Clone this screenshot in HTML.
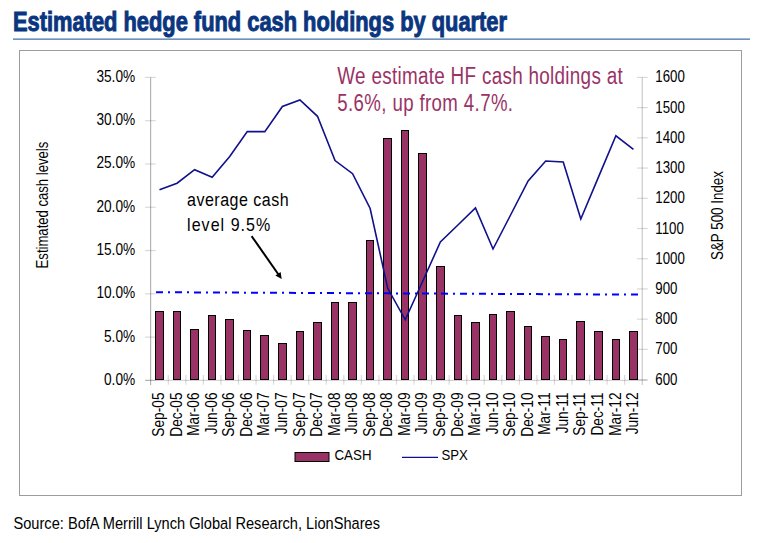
<!DOCTYPE html><html><head><meta charset="utf-8"><style>html,body{margin:0;padding:0;background:#fff;width:758px;height:543px;overflow:hidden}svg{display:block}text{font-family:"Liberation Sans",sans-serif}</style></head><body>
<svg width="758" height="543" viewBox="0 0 758 543">
<text x="13" y="31.3" font-size="27.6" font-weight="bold" fill="#0a3680" stroke="#0a3680" stroke-width="1" textLength="494" lengthAdjust="spacingAndGlyphs">Estimated hedge fund cash holdings by quarter</text>
<rect x="13" y="38" width="737" height="1" fill="#a3b6d4"/>
<rect x="13" y="39" width="737" height="1" fill="#7190bd"/>
<rect x="19.5" y="50.5" width="722" height="445" fill="none" stroke="#9c9c9c" stroke-width="1"/>
<text x="13.5" y="528.8" font-size="17.4" fill="#000" textLength="366.5" lengthAdjust="spacingAndGlyphs">Source: BofA Merrill Lynch Global Research, LionShares</text>
<line x1="150.6" y1="77.4" x2="150.6" y2="384.9" stroke="#b4b4b4" stroke-width="1.2"/>
<line x1="642.3" y1="77.4" x2="642.3" y2="384.9" stroke="#000" stroke-opacity="0.17" stroke-width="1.5"/>
<line x1="145" y1="380.4" x2="647.5" y2="380.4" stroke="#000" stroke-opacity="0.17" stroke-width="1.2"/>
<line x1="145" y1="380.40" x2="155.7" y2="380.40" stroke="#000" stroke-opacity="0.15" stroke-width="1.2"/>
<text transform="translate(135.2,384.90) scale(0.84,1)" text-anchor="end" font-size="16.3" fill="#000">0.0%</text>
<line x1="145" y1="337.11" x2="155.7" y2="337.11" stroke="#000" stroke-opacity="0.15" stroke-width="1.2"/>
<text transform="translate(135.2,341.61) scale(0.84,1)" text-anchor="end" font-size="16.3" fill="#000">5.0%</text>
<line x1="145" y1="293.83" x2="155.7" y2="293.83" stroke="#000" stroke-opacity="0.15" stroke-width="1.2"/>
<text transform="translate(135.2,298.33) scale(0.84,1)" text-anchor="end" font-size="16.3" fill="#000">10.0%</text>
<line x1="145" y1="250.54" x2="155.7" y2="250.54" stroke="#000" stroke-opacity="0.15" stroke-width="1.2"/>
<text transform="translate(135.2,255.04) scale(0.84,1)" text-anchor="end" font-size="16.3" fill="#000">15.0%</text>
<line x1="145" y1="207.26" x2="155.7" y2="207.26" stroke="#000" stroke-opacity="0.15" stroke-width="1.2"/>
<text transform="translate(135.2,211.76) scale(0.84,1)" text-anchor="end" font-size="16.3" fill="#000">20.0%</text>
<line x1="145" y1="163.97" x2="155.7" y2="163.97" stroke="#000" stroke-opacity="0.15" stroke-width="1.2"/>
<text transform="translate(135.2,168.47) scale(0.84,1)" text-anchor="end" font-size="16.3" fill="#000">25.0%</text>
<line x1="145" y1="120.69" x2="155.7" y2="120.69" stroke="#000" stroke-opacity="0.15" stroke-width="1.2"/>
<text transform="translate(135.2,125.19) scale(0.84,1)" text-anchor="end" font-size="16.3" fill="#000">30.0%</text>
<line x1="145" y1="77.40" x2="155.7" y2="77.40" stroke="#000" stroke-opacity="0.15" stroke-width="1.2"/>
<text transform="translate(135.2,81.90) scale(0.84,1)" text-anchor="end" font-size="16.3" fill="#000">35.0%</text>
<line x1="637" y1="379.60" x2="647.7" y2="379.60" stroke="#000" stroke-opacity="0.15" stroke-width="1.2"/>
<text transform="translate(655.3,384.60) scale(0.82,1)" font-size="16.2" fill="#000">600</text>
<line x1="637" y1="349.38" x2="647.7" y2="349.38" stroke="#000" stroke-opacity="0.15" stroke-width="1.2"/>
<text transform="translate(655.3,354.38) scale(0.82,1)" font-size="16.2" fill="#000">700</text>
<line x1="637" y1="319.16" x2="647.7" y2="319.16" stroke="#000" stroke-opacity="0.15" stroke-width="1.2"/>
<text transform="translate(655.3,324.16) scale(0.82,1)" font-size="16.2" fill="#000">800</text>
<line x1="637" y1="288.94" x2="647.7" y2="288.94" stroke="#000" stroke-opacity="0.15" stroke-width="1.2"/>
<text transform="translate(655.3,293.94) scale(0.82,1)" font-size="16.2" fill="#000">900</text>
<line x1="637" y1="258.72" x2="647.7" y2="258.72" stroke="#000" stroke-opacity="0.15" stroke-width="1.2"/>
<text transform="translate(655.3,263.72) scale(0.82,1)" font-size="16.2" fill="#000">1000</text>
<line x1="637" y1="228.50" x2="647.7" y2="228.50" stroke="#000" stroke-opacity="0.15" stroke-width="1.2"/>
<text transform="translate(655.3,233.50) scale(0.82,1)" font-size="16.2" fill="#000">1100</text>
<line x1="637" y1="198.28" x2="647.7" y2="198.28" stroke="#000" stroke-opacity="0.15" stroke-width="1.2"/>
<text transform="translate(655.3,203.28) scale(0.82,1)" font-size="16.2" fill="#000">1200</text>
<line x1="637" y1="168.06" x2="647.7" y2="168.06" stroke="#000" stroke-opacity="0.15" stroke-width="1.2"/>
<text transform="translate(655.3,173.06) scale(0.82,1)" font-size="16.2" fill="#000">1300</text>
<line x1="637" y1="137.84" x2="647.7" y2="137.84" stroke="#000" stroke-opacity="0.15" stroke-width="1.2"/>
<text transform="translate(655.3,142.84) scale(0.82,1)" font-size="16.2" fill="#000">1400</text>
<line x1="637" y1="107.62" x2="647.7" y2="107.62" stroke="#000" stroke-opacity="0.15" stroke-width="1.2"/>
<text transform="translate(655.3,112.62) scale(0.82,1)" font-size="16.2" fill="#000">1500</text>
<line x1="637" y1="77.40" x2="647.7" y2="77.40" stroke="#000" stroke-opacity="0.15" stroke-width="1.2"/>
<text transform="translate(655.3,82.40) scale(0.82,1)" font-size="16.2" fill="#000">1600</text>
<line x1="168.28" y1="375" x2="168.28" y2="384.7" stroke="#000" stroke-opacity="0.15" stroke-width="1.2"/>
<line x1="185.83" y1="375" x2="185.83" y2="384.7" stroke="#000" stroke-opacity="0.15" stroke-width="1.2"/>
<line x1="203.38" y1="375" x2="203.38" y2="384.7" stroke="#000" stroke-opacity="0.15" stroke-width="1.2"/>
<line x1="220.94" y1="375" x2="220.94" y2="384.7" stroke="#000" stroke-opacity="0.15" stroke-width="1.2"/>
<line x1="238.49" y1="375" x2="238.49" y2="384.7" stroke="#000" stroke-opacity="0.15" stroke-width="1.2"/>
<line x1="256.05" y1="375" x2="256.05" y2="384.7" stroke="#000" stroke-opacity="0.15" stroke-width="1.2"/>
<line x1="273.60" y1="375" x2="273.60" y2="384.7" stroke="#000" stroke-opacity="0.15" stroke-width="1.2"/>
<line x1="291.16" y1="375" x2="291.16" y2="384.7" stroke="#000" stroke-opacity="0.15" stroke-width="1.2"/>
<line x1="308.71" y1="375" x2="308.71" y2="384.7" stroke="#000" stroke-opacity="0.15" stroke-width="1.2"/>
<line x1="326.26" y1="375" x2="326.26" y2="384.7" stroke="#000" stroke-opacity="0.15" stroke-width="1.2"/>
<line x1="343.82" y1="375" x2="343.82" y2="384.7" stroke="#000" stroke-opacity="0.15" stroke-width="1.2"/>
<line x1="361.37" y1="375" x2="361.37" y2="384.7" stroke="#000" stroke-opacity="0.15" stroke-width="1.2"/>
<line x1="378.93" y1="375" x2="378.93" y2="384.7" stroke="#000" stroke-opacity="0.15" stroke-width="1.2"/>
<line x1="396.48" y1="375" x2="396.48" y2="384.7" stroke="#000" stroke-opacity="0.15" stroke-width="1.2"/>
<line x1="414.03" y1="375" x2="414.03" y2="384.7" stroke="#000" stroke-opacity="0.15" stroke-width="1.2"/>
<line x1="431.59" y1="375" x2="431.59" y2="384.7" stroke="#000" stroke-opacity="0.15" stroke-width="1.2"/>
<line x1="449.14" y1="375" x2="449.14" y2="384.7" stroke="#000" stroke-opacity="0.15" stroke-width="1.2"/>
<line x1="466.69" y1="375" x2="466.69" y2="384.7" stroke="#000" stroke-opacity="0.15" stroke-width="1.2"/>
<line x1="484.25" y1="375" x2="484.25" y2="384.7" stroke="#000" stroke-opacity="0.15" stroke-width="1.2"/>
<line x1="501.80" y1="375" x2="501.80" y2="384.7" stroke="#000" stroke-opacity="0.15" stroke-width="1.2"/>
<line x1="519.36" y1="375" x2="519.36" y2="384.7" stroke="#000" stroke-opacity="0.15" stroke-width="1.2"/>
<line x1="536.91" y1="375" x2="536.91" y2="384.7" stroke="#000" stroke-opacity="0.15" stroke-width="1.2"/>
<line x1="554.46" y1="375" x2="554.46" y2="384.7" stroke="#000" stroke-opacity="0.15" stroke-width="1.2"/>
<line x1="572.02" y1="375" x2="572.02" y2="384.7" stroke="#000" stroke-opacity="0.15" stroke-width="1.2"/>
<line x1="589.57" y1="375" x2="589.57" y2="384.7" stroke="#000" stroke-opacity="0.15" stroke-width="1.2"/>
<line x1="607.13" y1="375" x2="607.13" y2="384.7" stroke="#000" stroke-opacity="0.15" stroke-width="1.2"/>
<line x1="624.68" y1="375" x2="624.68" y2="384.7" stroke="#000" stroke-opacity="0.15" stroke-width="1.2"/>
<rect x="155" y="311" width="9" height="69" fill="#000"/>
<rect x="156" y="312" width="7" height="67" fill="#993366"/>
<rect x="173" y="311" width="8" height="69" fill="#000"/>
<rect x="174" y="312" width="6" height="67" fill="#993366"/>
<rect x="190" y="329" width="9" height="51" fill="#000"/>
<rect x="191" y="330" width="7" height="49" fill="#993366"/>
<rect x="208" y="315" width="8" height="65" fill="#000"/>
<rect x="209" y="316" width="6" height="63" fill="#993366"/>
<rect x="225" y="319" width="9" height="61" fill="#000"/>
<rect x="226" y="320" width="7" height="59" fill="#993366"/>
<rect x="243" y="330" width="8" height="50" fill="#000"/>
<rect x="244" y="331" width="6" height="48" fill="#993366"/>
<rect x="260" y="335" width="9" height="45" fill="#000"/>
<rect x="261" y="336" width="7" height="43" fill="#993366"/>
<rect x="278" y="343" width="9" height="37" fill="#000"/>
<rect x="279" y="344" width="7" height="35" fill="#993366"/>
<rect x="296" y="331" width="8" height="49" fill="#000"/>
<rect x="297" y="332" width="6" height="47" fill="#993366"/>
<rect x="313" y="322" width="9" height="58" fill="#000"/>
<rect x="314" y="323" width="7" height="56" fill="#993366"/>
<rect x="331" y="302" width="8" height="78" fill="#000"/>
<rect x="332" y="303" width="6" height="76" fill="#993366"/>
<rect x="348" y="302" width="9" height="78" fill="#000"/>
<rect x="349" y="303" width="7" height="76" fill="#993366"/>
<rect x="366" y="240" width="8" height="140" fill="#000"/>
<rect x="367" y="241" width="6" height="138" fill="#993366"/>
<rect x="383" y="138" width="9" height="242" fill="#000"/>
<rect x="384" y="139" width="7" height="240" fill="#993366"/>
<rect x="401" y="130" width="8" height="250" fill="#000"/>
<rect x="402" y="131" width="6" height="248" fill="#993366"/>
<rect x="418" y="153" width="9" height="227" fill="#000"/>
<rect x="419" y="154" width="7" height="225" fill="#993366"/>
<rect x="436" y="266" width="9" height="114" fill="#000"/>
<rect x="437" y="267" width="7" height="112" fill="#993366"/>
<rect x="454" y="315" width="8" height="65" fill="#000"/>
<rect x="455" y="316" width="6" height="63" fill="#993366"/>
<rect x="471" y="322" width="9" height="58" fill="#000"/>
<rect x="472" y="323" width="7" height="56" fill="#993366"/>
<rect x="489" y="314" width="8" height="66" fill="#000"/>
<rect x="490" y="315" width="6" height="64" fill="#993366"/>
<rect x="506" y="311" width="9" height="69" fill="#000"/>
<rect x="507" y="312" width="7" height="67" fill="#993366"/>
<rect x="524" y="326" width="8" height="54" fill="#000"/>
<rect x="525" y="327" width="6" height="52" fill="#993366"/>
<rect x="541" y="336" width="9" height="44" fill="#000"/>
<rect x="542" y="337" width="7" height="42" fill="#993366"/>
<rect x="559" y="339" width="8" height="41" fill="#000"/>
<rect x="560" y="340" width="6" height="39" fill="#993366"/>
<rect x="576" y="321" width="9" height="59" fill="#000"/>
<rect x="577" y="322" width="7" height="57" fill="#993366"/>
<rect x="594" y="331" width="9" height="49" fill="#000"/>
<rect x="595" y="332" width="7" height="47" fill="#993366"/>
<rect x="612" y="339" width="8" height="41" fill="#000"/>
<rect x="613" y="340" width="6" height="39" fill="#993366"/>
<rect x="629" y="331" width="9" height="49" fill="#000"/>
<rect x="630" y="332" width="7" height="47" fill="#993366"/>
<line x1="156" y1="292.2" x2="638" y2="294.6" stroke="#0000ff" stroke-width="2" stroke-dasharray="7 5 2 5"/>
<polyline points="159.50,189.7 177.05,183.2 194.61,169.7 212.16,177.2 229.72,156.5 247.27,131.6 264.82,131.6 282.38,106.5 299.93,100 317.49,116.3 335.04,160.6 352.59,173.7 370.15,208.5 387.70,288.3 405.26,319.8 422.81,281 440.36,242 457.92,225 475.47,208 493.03,249 510.58,215 528.13,181 545.69,161 563.24,162 580.80,219 598.35,177.4 615.90,135.8 633.46,149.4" fill="none" stroke="#10108c" stroke-width="1.6" stroke-linejoin="miter"/>
<text transform="translate(164.10,392.5) rotate(-90) scale(0.857,1)" text-anchor="end" font-size="16" fill="#000">Sep-05</text>
<text transform="translate(181.65,392.5) rotate(-90) scale(0.857,1)" text-anchor="end" font-size="16" fill="#000">Dec-05</text>
<text transform="translate(199.21,392.5) rotate(-90) scale(0.857,1)" text-anchor="end" font-size="16" fill="#000">Mar-06</text>
<text transform="translate(216.76,392.5) rotate(-90) scale(0.857,1)" text-anchor="end" font-size="16" fill="#000">Jun-06</text>
<text transform="translate(234.32,392.5) rotate(-90) scale(0.857,1)" text-anchor="end" font-size="16" fill="#000">Sep-06</text>
<text transform="translate(251.87,392.5) rotate(-90) scale(0.857,1)" text-anchor="end" font-size="16" fill="#000">Dec-06</text>
<text transform="translate(269.42,392.5) rotate(-90) scale(0.857,1)" text-anchor="end" font-size="16" fill="#000">Mar-07</text>
<text transform="translate(286.98,392.5) rotate(-90) scale(0.857,1)" text-anchor="end" font-size="16" fill="#000">Jun-07</text>
<text transform="translate(304.53,392.5) rotate(-90) scale(0.857,1)" text-anchor="end" font-size="16" fill="#000">Sep-07</text>
<text transform="translate(322.09,392.5) rotate(-90) scale(0.857,1)" text-anchor="end" font-size="16" fill="#000">Dec-07</text>
<text transform="translate(339.64,392.5) rotate(-90) scale(0.857,1)" text-anchor="end" font-size="16" fill="#000">Mar-08</text>
<text transform="translate(357.19,392.5) rotate(-90) scale(0.857,1)" text-anchor="end" font-size="16" fill="#000">Jun-08</text>
<text transform="translate(374.75,392.5) rotate(-90) scale(0.857,1)" text-anchor="end" font-size="16" fill="#000">Sep-08</text>
<text transform="translate(392.30,392.5) rotate(-90) scale(0.857,1)" text-anchor="end" font-size="16" fill="#000">Dec-08</text>
<text transform="translate(409.86,392.5) rotate(-90) scale(0.857,1)" text-anchor="end" font-size="16" fill="#000">Mar-09</text>
<text transform="translate(427.41,392.5) rotate(-90) scale(0.857,1)" text-anchor="end" font-size="16" fill="#000">Jun-09</text>
<text transform="translate(444.96,392.5) rotate(-90) scale(0.857,1)" text-anchor="end" font-size="16" fill="#000">Sep-09</text>
<text transform="translate(462.52,392.5) rotate(-90) scale(0.857,1)" text-anchor="end" font-size="16" fill="#000">Dec-09</text>
<text transform="translate(480.07,392.5) rotate(-90) scale(0.857,1)" text-anchor="end" font-size="16" fill="#000">Mar-10</text>
<text transform="translate(497.63,392.5) rotate(-90) scale(0.857,1)" text-anchor="end" font-size="16" fill="#000">Jun-10</text>
<text transform="translate(515.18,392.5) rotate(-90) scale(0.857,1)" text-anchor="end" font-size="16" fill="#000">Sep-10</text>
<text transform="translate(532.73,392.5) rotate(-90) scale(0.857,1)" text-anchor="end" font-size="16" fill="#000">Dec-10</text>
<text transform="translate(550.29,392.5) rotate(-90) scale(0.857,1)" text-anchor="end" font-size="16" fill="#000">Mar-11</text>
<text transform="translate(567.84,392.5) rotate(-90) scale(0.857,1)" text-anchor="end" font-size="16" fill="#000">Jun-11</text>
<text transform="translate(585.40,392.5) rotate(-90) scale(0.857,1)" text-anchor="end" font-size="16" fill="#000">Sep-11</text>
<text transform="translate(602.95,392.5) rotate(-90) scale(0.857,1)" text-anchor="end" font-size="16" fill="#000">Dec-11</text>
<text transform="translate(620.50,392.5) rotate(-90) scale(0.857,1)" text-anchor="end" font-size="16" fill="#000">Mar-12</text>
<text transform="translate(638.06,392.5) rotate(-90) scale(0.857,1)" text-anchor="end" font-size="16" fill="#000">Jun-12</text>
<text transform="translate(47.5,268.4) rotate(-90)" font-size="16.3" fill="#000" textLength="126.7" lengthAdjust="spacingAndGlyphs">Estimated cash levels</text>
<text transform="translate(723.2,260) rotate(-90)" font-size="16.1" fill="#000" textLength="89" lengthAdjust="spacingAndGlyphs">S&amp;P 500 Index</text>
<text transform="translate(337.3,83.5) scale(0.79,1)" font-size="23.9" fill="#993366" textLength="361.3" lengthAdjust="spacing">We estimate HF cash holdings at</text>
<text transform="translate(337.3,110.8) scale(0.78,1)" font-size="23.9" fill="#993366" textLength="225.3" lengthAdjust="spacing">5.6%, up from 4.7%.</text>
<text transform="translate(187.1,205.5) scale(0.84,1)" font-size="19.1" fill="#000" textLength="120.8" lengthAdjust="spacing">average cash</text>
<text transform="translate(187.1,230.8) scale(0.84,1)" font-size="19.1" fill="#000" textLength="99" lengthAdjust="spacing">level 9.5%</text>
<line x1="251.6" y1="236.1" x2="278.3" y2="274.2" stroke="#000" stroke-width="2"/>
<polygon points="281.7,279.1 275.36,275.6 280.6,271.95" fill="#000"/>
<rect x="295" y="452.5" width="34" height="9" fill="#993366" stroke="#000" stroke-width="1"/>
<text x="334.5" y="460.4" font-size="15.3" fill="#000" textLength="37" lengthAdjust="spacingAndGlyphs">CASH</text>
<line x1="402" y1="457.4" x2="438" y2="457.4" stroke="#10108c" stroke-width="1.3"/>
<text x="441.5" y="460.4" font-size="15.3" fill="#000" textLength="26.4" lengthAdjust="spacingAndGlyphs">SPX</text>
</svg></body></html>
